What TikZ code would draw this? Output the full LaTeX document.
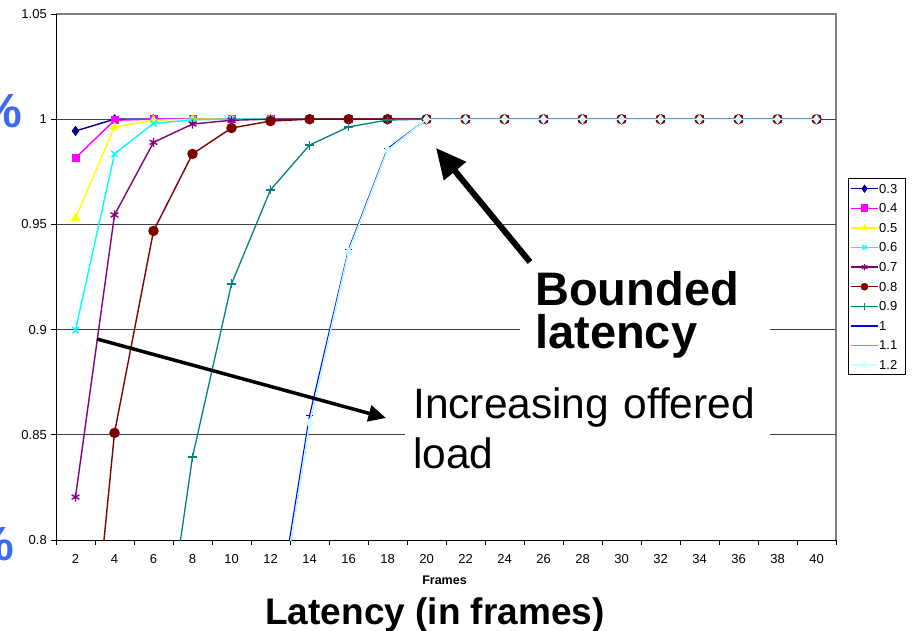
\documentclass[tikz,border=0pt]{standalone}
\usepackage{fontspec}
\setmainfont{Liberation Sans}
\usetikzlibrary{arrows.meta,plotmarks}

\definecolor{ser03}{HTML}{000080}
\definecolor{ser04}{HTML}{FF00FF}
\definecolor{ser05}{HTML}{FFFF00}
\definecolor{ser06}{HTML}{00FFFF}
\definecolor{ser07}{HTML}{800080}
\definecolor{ser08}{HTML}{800000}
\definecolor{ser09}{HTML}{008080}
\definecolor{ser10}{HTML}{0000FF}
\definecolor{ser11}{HTML}{00CCFF}
\definecolor{ser12}{HTML}{CCFFFF}
\definecolor{pctblue}{HTML}{3A6BF0}

\tikzset{
  s03/.style={color=ser03, line width=1.4pt, mark=diamond*, mark size=4pt},
  s04/.style={color=ser04, line width=1.4pt, mark=square*, mark size=3.3pt},
  s05/.style={color=ser05, line width=1.4pt, mark=triangle*, mark size=4pt},
  s06/.style={color=ser06, line width=1.4pt, mark=x, mark size=4.5pt},
  s07/.style={color=ser07, line width=1.4pt, mark=asterisk, mark size=4.5pt},
  s08/.style={color=ser08, line width=1.4pt, mark=*, mark size=4.5pt},
  s09/.style={color=ser09, line width=1.3pt, mark=+, mark size=4.5pt},
  s10/.style={color=ser10, line width=1.2pt, mark=-, mark size=3.5pt},
  s11/.style={color=ser11, line width=1.2pt, mark=-, mark size=3.5pt},
  s12/.style={color=ser12, line width=1.2pt, mark=diamond*, mark size=4pt},
  ticklab/.style={font=\fontsize{13}{15}\selectfont, inner sep=0pt},
  gridline/.style={draw=black!75, line width=0.9pt},
  callout/.style={fill=white, align=left, inner xsep=15pt, inner ysep=5pt, anchor=north west},
  fatarrow/.style={line width=#1, -{Triangle[length=5*#1,width=4.6*#1]}},
}

\begin{document}
\begin{tikzpicture}[x=1pt,y=-1pt]
\useasboundingbox (0,0) rectangle (913,631);

% plot frame and grid
\draw[gray, line width=1.5pt] (56,14) -- (836,14) -- (836,540);
\foreach \i in {1,...,4}
  \draw[gridline] (56,540-105.2*\i) -- (836,540-105.2*\i);
\draw[black, line width=1pt] (56,14) -- (56,540) -- (836,540);

% y axis ticks and labels
\foreach \lab [count=\i from 0] in {0.8,0.85,0.9,0.95,1,1.05} {
  \draw[line width=0.8pt] (51,540-105.2*\i) -- (56,540-105.2*\i);
  \node[ticklab, anchor=base east] (ylab\i) at (47,544.5-105.2*\i) {\lab};
}

% x axis ticks and labels
\foreach \k in {0,...,20}
  \draw[line width=0.8pt] (56+39*\k,540) -- (56+39*\k,545);
\foreach \lab [count=\k from 0] in {2,4,...,40}
  \node[ticklab, anchor=base] (xlab\k) at (75.5+39*\k,563) {\lab};

% data series (clipped to the plot area)
\begin{scope}
\clip (56,14) rectangle (836,540);
\begin{scope}[shift={(36.5,2223.2)}, x=19.5pt, y=2104pt]
  \draw[s03] plot coordinates {(2,0.9944) (4,1)} -- plot[samples at={6,8,...,40}] (\x,1);
  \draw[s04] plot coordinates {(2,0.9816) (4,0.9995)} -- plot[samples at={6,8,...,40}] (\x,1);
  \draw[s05] plot coordinates {(2,0.953) (4,0.9963) (6,0.9995)} -- plot[samples at={8,10,...,40}] (\x,1);
  \draw[s06] plot coordinates {(2,0.8998) (4,0.9835) (6,0.998) (8,0.9997)} -- plot[samples at={10,12,...,40}] (\x,1);
  \draw[s07] plot coordinates {(2,0.8204) (4,0.9545) (6,0.989) (8,0.9977) (10,0.9995)} -- plot[samples at={12,14,...,40}] (\x,1);
  \draw[s08] plot coordinates {(2,0.662) (4,0.8509) (6,0.9469) (8,0.9835) (10,0.9958) (12,0.9991)} -- plot[samples at={14,16,...,40}] (\x,1);
  \draw[s09] plot coordinates {(6,0.711) (8,0.8394) (10,0.9217) (12,0.9664) (14,0.9877) (16,0.9963) (18,0.9996)} -- plot[samples at={20,22,...,40}] (\x,1);
  \draw[s10] plot coordinates {(12,0.744) (14,0.859) (16,0.938) (18,0.986)} -- plot[samples at={20,22,...,40}] (\x,1);
  \draw[s11] plot coordinates {(12,0.739) (14,0.8556) (16,0.937) (18,0.9853)} -- plot[samples at={20,22,...,40}] (\x,1);
  \draw[s12] plot coordinates {(12,0.739) (14,0.8556) (16,0.937) (18,0.9853)} -- plot[samples at={20,22,...,40}] (\x,1);
\end{scope}
\end{scope}

% legend
\draw[line width=0.8pt] (848,178) rectangle (905,374);
\foreach \s/\lab [count=\i from 0] in {s03/0.3,s04/0.4,s05/0.5,s06/0.6,s07/0.7,s08/0.8,s09/0.9,s10/1,s11/1.1,s12/1.2} {
  \draw[\s, line width=1.5pt] (851,188.7+19.6*\i) -- (878,188.7+19.6*\i);
  \path[\s, line width=1.2pt] plot[only marks, mark size=3.2pt] coordinates {(864.5,188.7+19.6*\i)};
  \node[ticklab, anchor=west] (leg\i) at (879,188.7+19.6*\i) {\lab};
}

% axis titles
\node[font=\bfseries\fontsize{12.5}{14}\selectfont, inner sep=0pt] (frames) at (444.5,580) {Frames};
\node[font=\bfseries\fontsize{37}{40}\selectfont, inner sep=0pt, anchor=base] (xtitle) at (435,624) {Latency (in frames)};

% cut-off percent signs on the left
\node[font=\bfseries\fontsize{48}{50}\selectfont, text=pctblue, inner sep=0pt, anchor=base east] (pcttop) at (22,128) {\%};
\node[font=\bfseries\fontsize{48}{50}\selectfont, text=pctblue, inner sep=0pt, anchor=base east] (pctbot) at (14,560) {\%};

% callouts
\node[callout, text width=220pt, font=\bfseries\fontsize{47}{43}\selectfont] (bounded) at (520,266) {Bounded\\latency};
\node[callout, inner xsep=8pt, text width=349pt, font=\fontsize{42.5}{50}\selectfont] (increasing) at (405,383) {Increasing offered\\load};

% arrows
\coordinate (bltail) at (530,262);
\coordinate (blhead) at (436,148);
\draw[fatarrow=6pt] (bltail) -- (blhead);
\coordinate (inctail) at (97,339);
\coordinate (inchead) at (386,418);
\draw[fatarrow=3.5pt] (inctail) -- (inchead);

\end{tikzpicture}
\end{document}
